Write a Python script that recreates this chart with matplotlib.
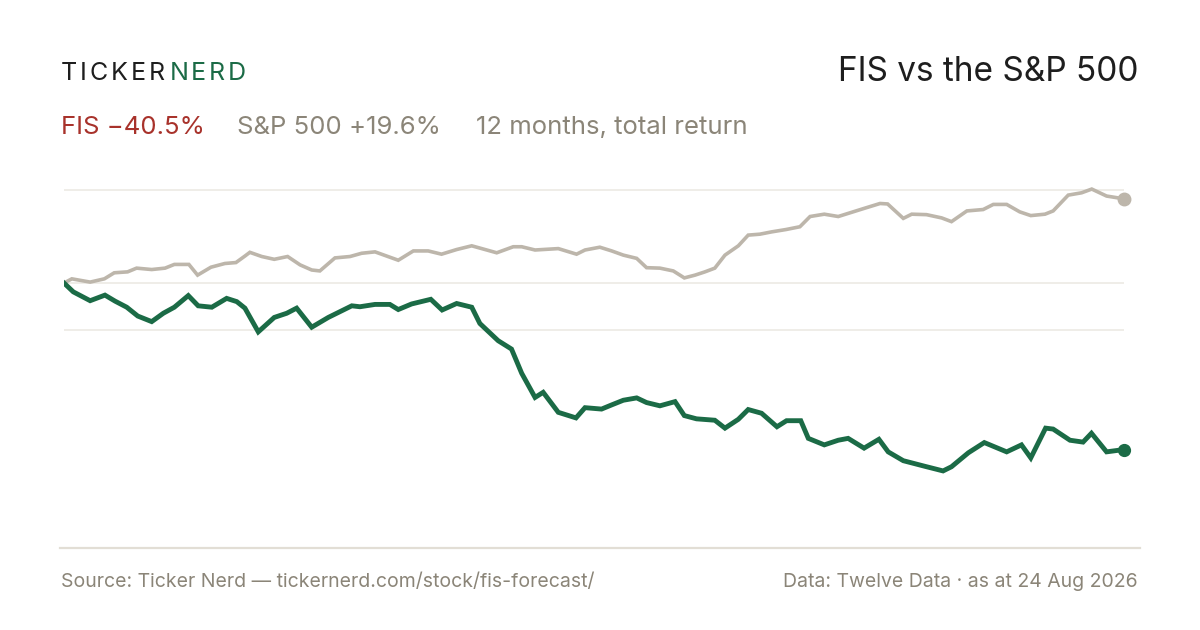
import matplotlib
matplotlib.use("Agg")
from matplotlib import pyplot as plt
from matplotlib.lines import Line2D

# days since start of the 12 month window, cumulative return in %
spx_days = [0, 2.7, 9.0, 13.9, 17.3, 21.9, 25.0, 30.2, 34.8, 38.0, 43.0, 46.0, 50.6, 55.4,
            59.2, 62.3, 64.0, 68.1, 72.4, 77.0, 81.3, 85.3, 88.1, 93.3, 98.5, 102.5, 107.1,
            111.1, 115.1, 120.3, 125.4, 130.0, 135.2, 140.4, 145.0, 149.0, 154.7, 157.6,
            162.2, 170.2, 176.5, 179.4, 184.5, 188.6, 192.6, 197.2, 200.6, 205.2, 209.8,
            213.6, 217.3, 220.7, 224.1, 227.6, 232.2, 235.6, 239.6, 243.7, 248.6, 253.4,
            256.9, 261.8, 266.6, 271.2, 275.8, 281.0, 283.6, 289.0, 291.9, 297.0, 302.2,
            305.6, 310.9, 316.5, 320.0, 324.6, 329.1, 332.9, 337.8, 340.6, 345.8, 350.4,
            353.9, 359.0, 365]
spx_ret = [0.0, 0.9, 0.2, 0.9, 2.2, 2.4, 3.2, 2.9, 3.2, 4.0, 4.0, 1.7, 3.4, 4.2,
           4.4, 5.8, 6.6, 5.7, 5.1, 5.7, 3.9, 2.8, 2.6, 5.4, 5.7, 6.4, 6.7,
           5.8, 4.9, 6.9, 6.9, 6.2, 7.2, 8.0, 7.2, 6.5, 7.8, 7.8,
           7.1, 7.4, 6.2, 7.1, 7.7, 6.9, 6.0, 5.3, 3.3, 3.2, 2.6,
           1.1, 1.7, 2.4, 3.2, 6.0, 8.0, 10.3, 10.5, 11.0, 11.5, 12.1,
           14.3, 14.8, 14.3, 15.2, 16.1, 17.1, 17.0, 13.9, 14.8, 14.7, 14.0,
           13.2, 15.5, 15.8, 16.9, 16.9, 15.3, 14.5, 14.8, 15.5, 18.9, 19.4,
           20.2, 18.7, 18.1]

fis_days = [0, 3.2, 9.0, 14.1, 17.6, 21.6, 25.4, 30.2, 34.2, 38.0, 42.8, 46.2, 50.9, 56.0,
            59.5, 62.3, 66.9, 72.4, 76.7, 80.1, 85.3, 91.0, 99.1, 101.9, 107.1, 112.2,
            115.1, 119.7, 126.3, 130.2, 135.2, 140.4, 143.2, 149.5, 154.1, 157.6, 162.2,
            165.0, 170.2, 176.3, 179.4, 185.1, 188.6, 192.6, 197.2, 200.6, 205.2, 210.4,
            213.6, 217.8, 224.1, 227.6, 232.2, 235.6, 240.2, 245.5, 248.8, 253.7, 256.3,
            261.8, 266.6, 270.0, 275.5, 280.6, 283.8, 289.0, 296.4, 302.7, 305.6, 311.4,
            316.9, 324.6, 329.7, 332.9, 338.0, 340.6, 346.4, 350.9, 353.8, 359.0, 365]
fis_ret = [0.0, -1.9, -3.8, -2.6, -3.9, -5.2, -7.1, -8.3, -6.5, -5.2, -2.7, -4.9, -5.2, -3.3,
           -4.0, -5.4, -10.5, -7.4, -6.5, -5.4, -9.5, -7.4, -4.9, -5.1, -4.6, -4.6,
           -5.7, -4.5, -3.5, -5.8, -4.4, -5.2, -8.7, -12.4, -14.2, -19.4, -24.6,
           -23.5, -27.8, -29.0, -26.8, -27.1, -26.2, -25.2, -24.7, -25.7, -26.4, -25.5,
           -28.5, -29.2, -29.5, -31.2, -29.3, -27.2, -28.0, -30.9, -29.6, -29.6, -33.4,
           -34.8, -33.8, -33.4, -35.5, -33.6, -36.3, -38.2, -39.4, -40.4, -39.5, -36.5,
           -34.3, -36.3, -34.8, -37.6, -31.2, -31.4, -33.8, -34.2, -32.3, -36.3, -35.8]

grid_levels = [20, 0, -10]

title = "FIS vs the S&P 500"
fis_label = "FIS \u221240.5%"
spx_label = "S&P 500 +19.6%"
period_label = "12 months, total return"
source_text = "Source: Ticker Nerd \u2014 tickernerd.com/stock/fis-forecast/"
data_text = "Data: Twelve Data \u00b7 as at 24 Aug 2026"

GREEN = "#1b6b46"
GREY_LINE = "#bdb6ab"
RED = "#a8322b"
GREY_TEXT = "#8b8578"
INK = "#1e1e1e"
RULE = "#e2ded5"
GRID = "#ebe8e2"
FONT = "Inter"

W, H = 1200, 630
fig = plt.figure(figsize=(12, 6.3), dpi=100)
fig.patch.set_facecolor("white")


def fx(px):
    return px / W


def fy(py):
    return 1 - py / H


# plot area: x 64..1124 px, y 170..490 px
ax = fig.add_axes([fx(64), fy(490), fx(1124) - fx(64), (490 - 170) / H])
ax.set_xlim(0, 365)
ax.set_ylim(-44.5, 24.3)
ax.axis("off")

for g in grid_levels:
    ax.axhline(g, color=GRID, lw=1.1, zorder=1)

ax.plot(spx_days, spx_ret, color=GREY_LINE, lw=2.6, solid_joinstyle="miter", zorder=3)
ax.plot(fis_days, fis_ret, color=GREEN, lw=3.5, solid_joinstyle="miter", zorder=4)
ax.plot(spx_days[-1], spx_ret[-1], "o", color=GREY_LINE, ms=9, zorder=5, clip_on=False)
ax.plot(fis_days[-1], fis_ret[-1], "o", color=GREEN, ms=8.5, zorder=5, clip_on=False)

# bottom rule
fig.add_artist(Line2D([fx(60), fx(1140)], [fy(548), fy(548)], color=RULE, lw=1.6))

# logo with letter tracking
fig.canvas.draw()
renderer = fig.canvas.get_renderer()
x = 61
for word, col in [("TICKER", INK), ("NERD", GREEN)]:
    for ch in word:
        t = fig.text(fx(x), fy(80), ch, color=col, fontsize=18, family=FONT,
                     ha="left", va="baseline")
        x += t.get_window_extent(renderer).width + 2.8
    x += 2

fig.text(fx(1138), fy(81), title, color=INK, fontsize=24, family=FONT,
         ha="right", va="baseline")

fig.text(fx(61), fy(134), fis_label, color=RED, fontsize=18.5, family=FONT,
         ha="left", va="baseline")
fig.text(fx(237), fy(134), spx_label, color=GREY_TEXT, fontsize=18.5, family=FONT,
         ha="left", va="baseline")
fig.text(fx(476), fy(134), period_label, color=GREY_TEXT, fontsize=18.5, family=FONT,
         ha="left", va="baseline")

fig.text(fx(61), fy(587), source_text, color=GREY_TEXT, fontsize=14, family=FONT,
         ha="left", va="baseline")
fig.text(fx(1138), fy(587), data_text, color=GREY_TEXT, fontsize=14, family=FONT,
         ha="right", va="baseline")

fig.savefig("out.png", dpi=100, facecolor="white")
